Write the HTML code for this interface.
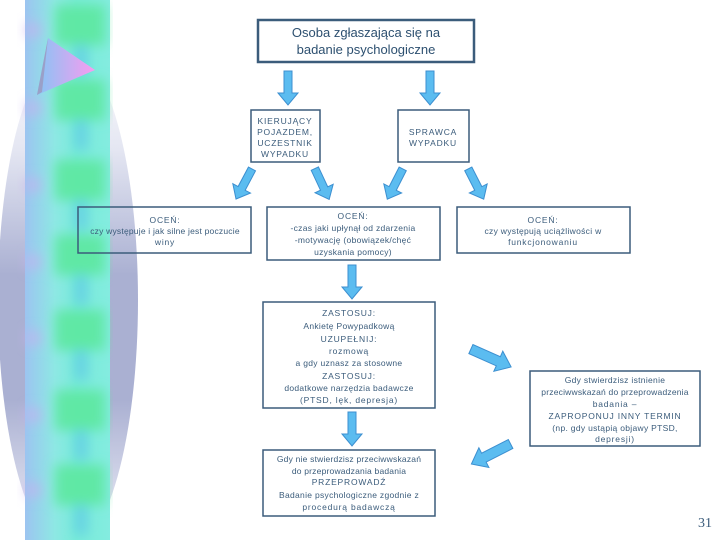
<!DOCTYPE html>
<html><head><meta charset="utf-8"><style>
body{margin:0;width:720px;height:540px;overflow:hidden;background:#fff;font-family:"Liberation Sans",sans-serif}
</style></head><body>
<svg width="720" height="540" xmlns="http://www.w3.org/2000/svg" font-family="Liberation Sans, sans-serif">
<defs>
<linearGradient id="ell" x1="0" y1="0" x2="0" y2="1">
<stop offset="0" stop-color="#fff"/><stop offset="0.2" stop-color="#e4e6f2"/><stop offset="0.45" stop-color="#aab0d2"/><stop offset="0.7" stop-color="#aab0d2"/><stop offset="0.92" stop-color="#e0e2f0"/><stop offset="1" stop-color="#fff"/>
</linearGradient>
<linearGradient id="band" x1="0" x2="1">
<stop offset="0" stop-color="#9cc4f0"/><stop offset="0.35" stop-color="#8ee8e4"/><stop offset="0.6" stop-color="#78ecd8"/><stop offset="1" stop-color="#84ece0"/>
</linearGradient>
<linearGradient id="tri" x1="0" x2="1">
<stop offset="0" stop-color="#88c4f4"/><stop offset="1" stop-color="#f89cf0"/>
</linearGradient>
<filter id="bl"><feGaussianBlur stdDeviation="6"/></filter>
<polygon id="arr" points="-4,-17 4,-17 4,5 10,5 0,17 -10,5 -4,5" fill="#5bbcf0" stroke="#3c8fd0" stroke-width="1"/>
<polygon id="arrL" points="-5,-22 5,-22 5,8 11,8 0,22 -11,8 -5,8" fill="#5bbcf0" stroke="#3c8fd0" stroke-width="1"/>
</defs>
<ellipse cx="68" cy="300" rx="70" ry="250" fill="url(#ell)"/>
<rect x="25" y="0" width="85" height="540" fill="url(#band)"/>
<g filter="url(#bl)">
<g fill="#5ce8a0" opacity="0.9">
<rect x="55" y="5" width="50" height="40"/><rect x="55" y="80" width="50" height="40"/><rect x="55" y="160" width="50" height="40"/><rect x="55" y="235" width="50" height="40"/><rect x="55" y="310" width="50" height="40"/><rect x="55" y="390" width="50" height="40"/><rect x="55" y="465" width="50" height="40"/>
</g>
<g fill="#60c8e8" opacity="0.8">
<rect x="75" y="45" width="12" height="30"/><rect x="75" y="120" width="12" height="30"/><rect x="75" y="200" width="12" height="30"/><rect x="75" y="275" width="12" height="30"/><rect x="75" y="350" width="12" height="30"/><rect x="75" y="430" width="12" height="30"/><rect x="75" y="505" width="12" height="30"/>
</g>
<g fill="#c8b0f0" opacity="0.7">
<circle cx="33" cy="30" r="8"/><circle cx="33" cy="108" r="8"/><circle cx="33" cy="185" r="8"/><circle cx="33" cy="262" r="8"/><circle cx="33" cy="338" r="8"/><circle cx="33" cy="415" r="8"/><circle cx="33" cy="490" r="8"/>
</g>
</g>
<polygon points="48,38 95,70 37,95" fill="url(#tri)"/>
<polygon points="48,38 37,95 42,92" fill="#9aa0c8"/>

<g fill="none" stroke="#3b5c7b" stroke-width="2.5">
<rect x="258" y="20" width="216" height="42"/>
</g>
<g fill="#fff" stroke="#3b5c7b" stroke-width="1.5">
<rect x="251" y="110" width="69" height="52"/>
<rect x="398" y="110" width="71" height="52"/>
<rect x="78" y="207" width="173" height="46" fill="none"/>
<rect x="267" y="207" width="173" height="53"/>
<rect x="457" y="207" width="173" height="46"/>
<rect x="263" y="302" width="172" height="106"/>
<rect x="263" y="450" width="172" height="66"/>
<rect x="530" y="371" width="170" height="75"/>
</g>

<use href="#arr" transform="translate(288,88)"/>
<use href="#arr" transform="translate(430,88)"/>
<use href="#arr" transform="translate(244,184) rotate(28)"/>
<use href="#arr" transform="translate(322,184) rotate(-25)"/>
<use href="#arr" transform="translate(395,184) rotate(27)"/>
<use href="#arr" transform="translate(476,184) rotate(-27)"/>
<use href="#arr" transform="translate(352,282)"/>
<use href="#arr" transform="translate(352,429)"/>
<use href="#arrL" transform="translate(491,358) rotate(-66)"/>
<use href="#arrL" transform="translate(491,454) rotate(63)"/>

<g fill="#2d5070" text-anchor="middle">
<text x="366" y="37" font-size="13">Osoba zgłaszająca się na</text>
<text x="366" y="54" font-size="13">badanie psychologiczne</text>
</g>
<g fill="#3b5c7b" text-anchor="middle" font-size="8.5" letter-spacing="0.8">
<text x="285" y="124">KIERUJĄCY</text>
<text x="285" y="135">POJAZDEM,</text>
<text x="285" y="146">UCZESTNIK</text>
<text x="285" y="157">WYPADKU</text>
<text x="433" y="135">SPRAWCA</text>
<text x="433" y="146">WYPADKU</text>
<text x="165" y="223">OCEŃ:</text>
<text x="165" y="234" letter-spacing="0.2">czy występuje i jak silne jest poczucie</text>
<text x="165" y="245">winy</text>
<text x="353" y="219">OCEŃ:</text>
<text x="353" y="231" letter-spacing="0.3">-czas jaki upłynął od zdarzenia</text>
<text x="353" y="243" letter-spacing="0.3">-motywację (obowiązek/chęć</text>
<text x="353" y="255" letter-spacing="0.3">uzyskania pomocy)</text>
<text x="543" y="223">OCEŃ:</text>
<text x="543" y="234" letter-spacing="0.3">czy występują uciążliwości w</text>
<text x="543" y="245">funkcjonowaniu</text>
<text x="349" y="316">ZASTOSUJ:</text>
<text x="349" y="329" letter-spacing="0.3">Ankietę Powypadkową</text>
<text x="349" y="342">UZUPEŁNIJ:</text>
<text x="349" y="354">rozmową</text>
<text x="349" y="366" letter-spacing="0.3">a gdy uznasz za stosowne</text>
<text x="349" y="379">ZASTOSUJ:</text>
<text x="349" y="391" letter-spacing="0.3">dodatkowe narzędzia badawcze</text>
<text x="349" y="403">(PTSD, lęk, depresja)</text>
<text x="349" y="462" letter-spacing="0.2">Gdy nie stwierdzisz przeciwwskazań</text>
<text x="349" y="474" letter-spacing="0.2">do przeprowadzania badania</text>
<text x="349" y="485">PRZEPROWADŹ</text>
<text x="349" y="498" letter-spacing="0.3">Badanie psychologiczne zgodnie z</text>
<text x="349" y="510">procedurą badawczą</text>
<text x="615" y="383" letter-spacing="0.3">Gdy stwierdzisz istnienie</text>
<text x="615" y="395" letter-spacing="0.2">przeciwwskazań do przeprowadzenia</text>
<text x="615" y="407">badania –</text>
<text x="615" y="419">ZAPROPONUJ INNY TERMIN</text>
<text x="615" y="431" letter-spacing="0.3">(np. gdy ustąpią objawy PTSD,</text>
<text x="615" y="442">depresji)</text>
</g>
<text x="705" y="527" font-size="14" fill="#3b5c7b" text-anchor="middle" font-family="Liberation Serif, serif">31</text>
</svg>
</body></html>
